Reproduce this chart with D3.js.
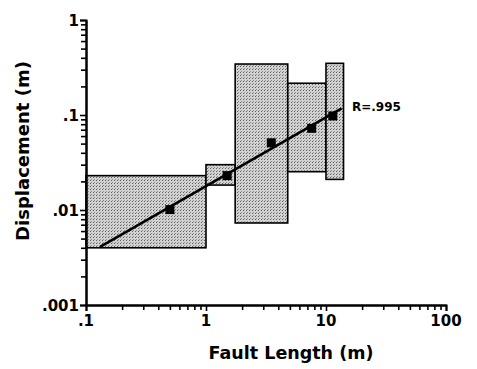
<!DOCTYPE html>
<html>
<head>
<meta charset="utf-8">
<script src="https://cdn.jsdelivr.net/npm/d3@7"></script>
<style>
  body { margin: 0; background: white; }
  text { font-family: 'DejaVu Sans', sans-serif; font-weight: bold; fill: black; }
</style>
</head>
<body>
<div id="chart"></div>
<script>
// Data
var boxXMin = [0.1, 1, 1.75, 4.8, 10]
var boxXMax = [1, 1.75, 4.8, 10, 14]
var boxYMin = [0.004, 0.0183, 0.0073, 0.0253, 0.021]
var boxYMax = [0.023, 0.03, 0.344, 0.216, 0.35]

var pointX = [0.5, 1.5, 3.5, 7.6, 11.4]
var pointY = [0.0101, 0.023, 0.051, 0.0724, 0.0977]

var fitX = [0.131, 13.5]
var fitY = [0.0041, 0.1177]

var xTickValues = [0.1, 1, 10, 100]
var xTickLabels = ['.1', '1', '10', '100']
var yTickValues = [0.001, 0.01, 0.1, 1]
var yTickLabels = ['.001', '.01', '.1', '1']

// Basic variables
var chart = {
  width: 477,
  height: 369,
  left: 86,
  top: 20,
  right: 446,
  bottom: 305
}

chart.svg = d3.select('#chart')
  .append('svg')
  .attr('width', chart.width)
  .attr('height', chart.height)

chart.x = d3.scaleLog().domain([0.1, 100]).range([chart.left, chart.right])
chart.y = d3.scaleLog().domain([0.001, 1]).range([chart.bottom, chart.top])

// stipple fill for the boxes
var pattern = chart.svg.append('defs')
  .append('pattern')
  .attr('id', 'stipple')
  .attr('width', 3)
  .attr('height', 3)
  .attr('patternUnits', 'userSpaceOnUse')
pattern.append('rect').attr('width', 3).attr('height', 3).attr('fill', '#d2d2d2')
pattern.append('rect').attr('x', 0).attr('y', 0).attr('width', 1).attr('height', 1).attr('fill', '#606060')
pattern.append('rect').attr('x', 1).attr('y', 2).attr('width', 1).attr('height', 1).attr('fill', '#8e8e8e')

// Boxes
chart.svg.selectAll('rect.range')
  .data(d3.range(boxXMin.length))
  .enter()
  .append('rect')
  .attr('class', 'range')
  .attr('x', function (i) { return chart.x(boxXMin[i]) })
  .attr('y', function (i) { return chart.y(boxYMax[i]) })
  .attr('width', function (i) { return chart.x(boxXMax[i]) - chart.x(boxXMin[i]) })
  .attr('height', function (i) { return chart.y(boxYMin[i]) - chart.y(boxYMax[i]) })
  .attr('fill', 'url(#stipple)')
  .attr('stroke', 'black')
  .attr('stroke-width', 1.6)

// Fit line
var line = d3.line()
  .x(function (i) { return chart.x(fitX[i]) })
  .y(function (i) { return chart.y(fitY[i]) })

chart.svg.append('path')
  .attr('d', line(d3.range(fitX.length)))
  .attr('fill', 'none')
  .attr('stroke', 'black')
  .attr('stroke-width', 2.6)

// Points
var size = 9
chart.svg.selectAll('rect.point')
  .data(d3.range(pointX.length))
  .enter()
  .append('rect')
  .attr('class', 'point')
  .attr('x', function (i) { return chart.x(pointX[i]) - size / 2 })
  .attr('y', function (i) { return chart.y(pointY[i]) - size / 2 })
  .attr('width', size)
  .attr('height', size)
  .attr('fill', 'black')

chart.svg.append('text')
  .attr('x', 352)
  .attr('y', 111)
  .style('font-size', '12px')
  .text('R=.995')

// Axes
function minorTicks(scale) {
  return scale.ticks().filter(function (d) { return xTickValues.indexOf(d) < 0 && yTickValues.indexOf(d) < 0 })
}

var xAxis = chart.svg.append('g')
  .attr('transform', `translate(0, ${chart.bottom})`)
  .call(d3.axisBottom(chart.x).tickValues(minorTicks(chart.x)).tickSize(5).tickSizeOuter(0).tickFormat(''))
xAxis.append('g')
  .call(d3.axisBottom(chart.x).tickValues(xTickValues).tickSize(6).tickFormat(''))
xAxis.selectAll('path').attr('stroke-width', 2)
xAxis.selectAll('line').attr('stroke-width', 1.6)

var yAxis = chart.svg.append('g')
  .attr('transform', `translate(${chart.left}, 0)`)
  .call(d3.axisLeft(chart.y).tickValues(minorTicks(chart.y)).tickSize(5).tickSizeOuter(0).tickFormat(''))
yAxis.append('g')
  .call(d3.axisLeft(chart.y).tickValues(yTickValues).tickSize(6).tickFormat(''))
yAxis.selectAll('path').attr('stroke-width', 2)
yAxis.selectAll('line').attr('stroke-width', 1.6)

// Tick labels
chart.svg.selectAll('text.xlabel')
  .data(xTickValues)
  .enter()
  .append('text')
  .attr('class', 'xlabel')
  .attr('x', function (d) { return chart.x(d) })
  .attr('y', chart.bottom + 21)
  .attr('text-anchor', 'middle')
  .style('font-size', '15px')
  .text(function (d, i) { return xTickLabels[i] })

chart.svg.selectAll('text.ylabel')
  .data(yTickValues)
  .enter()
  .append('text')
  .attr('class', 'ylabel')
  .attr('x', chart.left - 7)
  .attr('y', function (d) { return chart.y(d) + 5.5 })
  .attr('text-anchor', 'end')
  .style('font-size', '15px')
  .text(function (d, i) { return yTickLabels[i] })

// Axis titles
chart.svg.append('text')
  .attr('x', 291)
  .attr('y', 359)
  .attr('text-anchor', 'middle')
  .style('font-size', '17.5px')
  .text('Fault Length (m)')

chart.svg.append('text')
  .attr('transform', 'translate(29, 151) rotate(-90)')
  .attr('text-anchor', 'middle')
  .style('font-size', '18px')
  .text('Displacement (m)')
</script>
</body>
</html>
